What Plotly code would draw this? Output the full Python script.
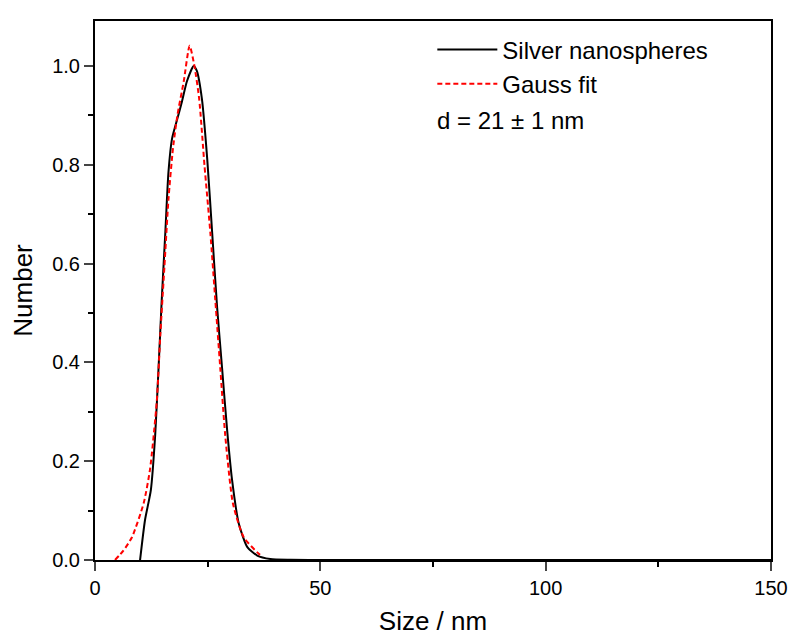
import plotly.graph_objects as go

# Measured curve (Silver nanospheres)
size_meas = [10.0, 11.1, 12.4, 13.35, 14.1, 14.8, 15.6, 16.3, 17.1, 18.3, 19.3, 20.4,
             21.9, 22.6, 23.7, 24.9, 26.0, 27.1, 28.2, 29.3, 30.4, 31.9, 33.8, 36.0,
             38.9, 43.4, 50.0, 150.0]
num_meas = [0.0, 0.081, 0.142, 0.252, 0.388, 0.525, 0.662, 0.785, 0.853, 0.894, 0.928, 0.969,
            1.0, 0.99, 0.935, 0.812, 0.662, 0.511, 0.388, 0.265, 0.163, 0.074, 0.026, 0.009,
            0.002, 0.0005, 0.0, 0.0]

# Gauss fit curve
size_fit = [4.45, 6.3, 8.2, 10.8, 12.2, 13.7, 14.5, 15.4, 16.3, 17.3, 18.3, 19.7, 21.0,
            22.0, 23.1, 24.3, 25.6, 26.7, 27.8, 28.9, 30.6, 33.0, 36.4, 37.0]
num_fit = [0.0, 0.019, 0.046, 0.115, 0.183, 0.32, 0.457, 0.593, 0.73, 0.833, 0.901, 0.969, 1.041,
           1.003, 0.935, 0.798, 0.662, 0.525, 0.388, 0.252, 0.115, 0.046, 0.012, 0.008]

x_ticks = [0, 50, 100, 150]
y_ticks = [0.0, 0.2, 0.4, 0.6, 0.8, 1.0]

fig = go.Figure()
fig.add_trace(go.Scatter(x=size_meas, y=num_meas, mode="lines", name="Silver nanospheres",
                         line=dict(color="black", width=2, shape="spline", smoothing=0.6)))
fig.add_trace(go.Scatter(x=size_fit, y=num_fit, mode="lines", name="Gauss fit",
                         line=dict(color="#ff0000", width=2, dash="5px,3px", shape="spline", smoothing=0.6)))

font_family = "Liberation Sans, Arial, sans-serif"
fig.update_layout(
    width=792, height=642,
    margin=dict(l=95, r=21, t=21, b=82, autoexpand=False),
    paper_bgcolor="white", plot_bgcolor="white",
    font=dict(family=font_family, color="black"),
    showlegend=True,
    legend=dict(x=0.499, y=0.988, xanchor="left", yanchor="top",
                bgcolor="rgba(0,0,0,0)", font=dict(size=24, family=font_family),
                itemwidth=60, tracegroupgap=0),
    xaxis=dict(range=[0, 150], tickvals=x_ticks, ticks="outside", ticklen=9, tickwidth=1.5,
               showline=True, linecolor="black", linewidth=2, mirror=True, showgrid=False,
               zeroline=False, tickfont=dict(size=20), automargin=False,
               minor=dict(tickvals=[25, 75, 125], ticks="outside", ticklen=5, tickwidth=1.5,
                          tickcolor="black", showgrid=False),
               title=dict(text="Size / nm", font=dict(size=26), standoff=14)),
    yaxis=dict(range=[0, 1.091], tickvals=y_ticks, tickformat=".1f", ticks="outside", ticklen=9,
               tickwidth=1.5, showline=True, linecolor="black", linewidth=2, mirror=True,
               showgrid=False, zeroline=False, tickfont=dict(size=20), automargin=False,
               minor=dict(tickvals=[0.1, 0.3, 0.5, 0.7, 0.9], ticks="outside", ticklen=5,
                          tickwidth=1.5, tickcolor="black", showgrid=False),
               title=dict(text="Number", font=dict(size=26), standoff=12)),
)
fig.add_annotation(text="d = 21 ± 1 nm", xref="paper", yref="paper", x=0.503, y=0.816,
                   xanchor="left", yanchor="middle", showarrow=False,
                   font=dict(size=24, family=font_family, color="black"))

fig.write_html("out.html")
